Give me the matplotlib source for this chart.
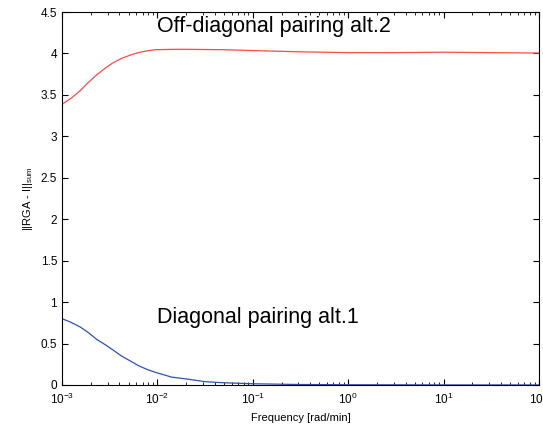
import matplotlib
matplotlib.use("Agg")
import matplotlib.pyplot as plt
import numpy as np

plt.rcParams['font.family'] = ['Liberation Sans', 'DejaVu Sans']
plt.rcParams['mathtext.fontset'] = 'custom'
plt.rcParams['mathtext.rm'] = 'Liberation Sans'
plt.rcParams['mathtext.it'] = 'Liberation Sans:italic'
plt.rcParams['mathtext.bf'] = 'Liberation Sans:bold'

freq = [1e-3, 1.25e-3, 1.55e-3, 1.89e-3, 2.3e-3, 2.82e-3, 3.4e-3, 4.2e-3, 5.2e-3, 6.3e-3,
        7.7e-3, 9.4e-3, 1.5e-2, 2e-2, 5e-2, 0.1, 0.3, 1, 3, 10, 30, 100]
offdiag = [3.386, 3.46, 3.55, 3.65, 3.74, 3.82, 3.885, 3.94, 3.98, 4.01,
           4.03, 4.045, 4.05, 4.05, 4.045, 4.035, 4.02, 4.01, 4.01, 4.015, 4.01, 4.005]
freq_d = [1e-3, 1.25e-3, 1.55e-3, 1.9e-3, 2.31e-3, 2.85e-3, 3.45e-3, 4.2e-3, 5.2e-3, 6.3e-3,
          7.7e-3, 9.4e-3, 1.41e-2, 2.11e-2, 3.15e-2, 4.72e-2, 0.1, 0.3, 1, 10, 100]
diag = [0.80, 0.755, 0.70, 0.63, 0.55, 0.485, 0.42, 0.35, 0.29, 0.235,
        0.19, 0.155, 0.095, 0.07, 0.04, 0.028, 0.015, 0.006, 0.003, 0.001, 0.0005]

fig = plt.figure(figsize=(5.43, 4.32), dpi=100)
ax = fig.add_axes([0.1142, 0.1088, 0.8784, 0.8634])
ax.semilogx(freq, offdiag, color='#ff4848', lw=0.9)
ax.semilogx(freq_d, diag, color='#3050b0', lw=0.9)
ax.set_xlim(1e-3, 100)
ax.set_ylim(0, 4.5)
ax.set_yticks(np.arange(0, 4.51, 0.5))
ax.set_yticklabels(['0', '0.5', '1', '1.5', '2', '2.5', '3', '3.5', '4', '4.5'])
ax.tick_params(which='both', direction='in', top=True, right=True, labelsize=8.5)
ax.tick_params(which='major', length=4)
ax.tick_params(which='minor', length=2)
ax.tick_params(axis='x', pad=5)
ax.set_xlabel('Frequency [rad/min]', fontsize=8)
ax.set_ylabel(r'||RGA - I||$_{\mathregular{sum}}$', fontsize=8)
ax.text(0.0098, 4.32, 'Off-diagonal pairing alt.2', fontsize=15.5, va='center', ha='left')
ax.text(0.0098, 0.81, 'Diagonal pairing alt.1', fontsize=15.5, va='center', ha='left')
fig.savefig('out.png', dpi=100)
